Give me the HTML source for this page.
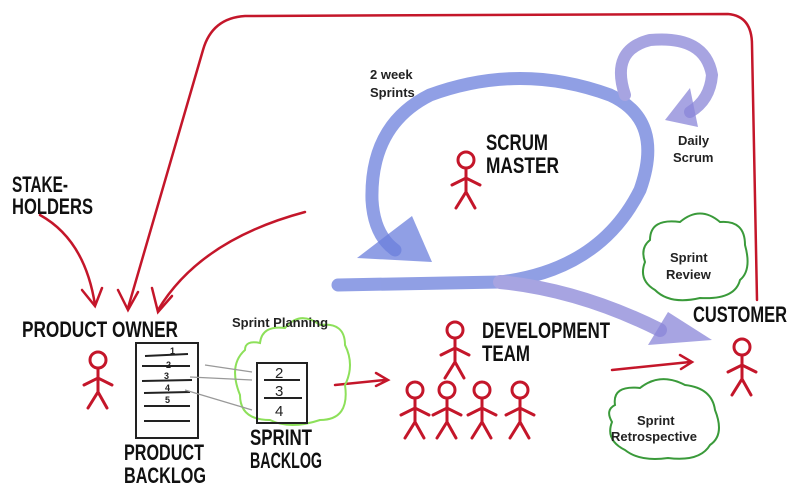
<!DOCTYPE html>
<html><head><meta charset="utf-8"><style>
html,body{margin:0;padding:0;background:#fff;width:800px;height:503px;overflow:hidden}
svg{display:block}
.t{font-family:"Liberation Sans",sans-serif;font-weight:bold;fill:#111}
.s{font-family:"Liberation Sans",sans-serif;font-weight:bold;fill:#222}
</style></head><body>
<svg width="800" height="503" viewBox="0 0 800 503">
<defs>
<g id="man" fill="none" stroke="#c4162a" stroke-width="3" stroke-linecap="round">
<circle cx="0" cy="0" r="8"/><path d="M0 8 L0 32 M-14 25 L0 18 L14 25 M-10 48 L0 32 L9 48"/>
</g>
</defs>
<g fill="none" stroke="#c4162a" stroke-width="2.5" stroke-linecap="round">
<path d="M128 308 L203 50 Q212 18 245 16 L728 14 Q752 16 752 45 L757 300"/>
<path d="M118 290 L128 310 L138 292"/>
<path d="M40 215 Q85 240 95 305"/>
<path d="M82 290 L95 306 L102 288"/>
<path d="M305 212 Q200 240 158 310"/>
<path d="M152 288 L158 312 L172 296"/>
<path d="M335 385 L385 380"/><path d="M376 373 L388 380 L376 386"/>
<path d="M612 370 L690 362"/><path d="M680 355 L692 362 L681 369"/>
</g>
<g fill="none" stroke-linecap="round" opacity="0.75">
<path d="M338 285 L500 282 Q600 270 640 190 Q665 120 610 95 Q520 62 430 95 Q370 125 372 200 Q374 235 395 250" stroke="#6b7fdc" stroke-width="13"/>
<path d="M500 282 Q580 290 660 330" stroke="#8a86d8" stroke-width="14"/>
<path d="M625 95 Q610 50 650 40 Q705 35 712 75 Q710 100 690 112" stroke="#8a86d8" stroke-width="12"/>
</g>
<g opacity="0.75">
<polygon points="357,258 432,262 412,216" fill="#6b7fdc"/>
<polygon points="648,345 712,340 668,312" fill="#8a86d8"/>
<polygon points="665,120 698,127 690,88" fill="#8a86d8"/>
</g>
<g fill="none" stroke-width="2">
<path d="M260 343 Q262 325 285 328 Q300 310 320 325 Q345 322 345 345 Q355 365 345 385 Q350 420 320 420 Q290 430 270 420 Q240 420 240 395 Q228 365 245 350 Q245 340 260 343Z" stroke="#8de05a"/>
<path d="M650 240 Q650 218 680 222 Q700 205 720 222 Q745 220 745 245 Q752 270 740 280 Q735 300 700 298 Q670 305 655 290 Q638 280 645 262 Q640 248 650 240Z" stroke="#3a9a3a"/>
<path d="M615 405 Q612 385 640 388 Q660 372 685 385 Q712 388 715 410 Q725 435 710 445 Q700 462 668 458 Q640 462 625 450 Q605 440 612 422 Q605 410 615 405Z" stroke="#3a9a3a"/>
</g>
<g fill="none" stroke="#222" stroke-width="2">
<rect x="136" y="343" width="62" height="95"/>
<path d="M145 356 L188 354 M142 366 L190 366 M142 381 L192 380 M144 393 L190 392 M144 406 L190 406 M144 421 L190 421"/>
<rect x="257" y="363" width="50" height="60"/>
<path d="M264 380 L300 380 M264 398 L302 398"/>
</g>
<g fill="none" stroke="#999" stroke-width="1.2">
<path d="M205 365 L252 372 M190 377 L252 380 M185 390 L252 410"/>
</g>
<text x="170" y="354" class="s" font-size="9">1</text>
<text x="166" y="368" class="s" font-size="9">2</text>
<text x="164" y="379" class="s" font-size="9">3</text>
<text x="165" y="391" class="s" font-size="9">4</text>
<text x="165" y="403" class="s" font-size="9">5</text>
<text x="275" y="378" class="s" font-size="15" style="font-weight:normal">2</text>
<text x="275" y="396" class="s" font-size="15" style="font-weight:normal">3</text>
<text x="275" y="416" class="s" font-size="15" style="font-weight:normal">4</text>
<use href="#man" x="98" y="360"/>
<use href="#man" x="466" y="160"/>
<use href="#man" x="455" y="330"/>
<use href="#man" x="415" y="390"/>
<use href="#man" x="447" y="390"/>
<use href="#man" x="482" y="390"/>
<use href="#man" x="520" y="390"/>
<use href="#man" x="742" y="347"/>
<g class="t" font-size="22">
<text x="12" y="192" textLength="56" lengthAdjust="spacingAndGlyphs">STAKE-</text>
<text x="12" y="214" textLength="81" lengthAdjust="spacingAndGlyphs">HOLDERS</text>
<text x="22" y="337" textLength="156" lengthAdjust="spacingAndGlyphs">PRODUCT OWNER</text>
<text x="124" y="460" textLength="80" lengthAdjust="spacingAndGlyphs">PRODUCT</text>
<text x="124" y="483" textLength="82" lengthAdjust="spacingAndGlyphs">BACKLOG</text>
<text x="250" y="445" textLength="62" lengthAdjust="spacingAndGlyphs">SPRINT</text>
<text x="250" y="468" textLength="72" lengthAdjust="spacingAndGlyphs">BACKLOG</text>
<text x="486" y="150" textLength="62" lengthAdjust="spacingAndGlyphs">SCRUM</text>
<text x="486" y="173" textLength="73" lengthAdjust="spacingAndGlyphs">MASTER</text>
<text x="482" y="338" textLength="128" lengthAdjust="spacingAndGlyphs">DEVELOPMENT</text>
<text x="482" y="361" textLength="48" lengthAdjust="spacingAndGlyphs">TEAM</text>
<text x="693" y="322" textLength="94" lengthAdjust="spacingAndGlyphs">CUSTOMER</text>
</g>
<g class="s" font-size="13">
<text x="370" y="79">2 week</text>
<text x="370" y="97">Sprints</text>
<text x="678" y="145">Daily</text>
<text x="673" y="162">Scrum</text>
<text x="232" y="327">Sprint Planning</text>
<text x="670" y="262">Sprint</text>
<text x="666" y="279">Review</text>
<text x="637" y="425">Sprint</text>
<text x="611" y="441">Retrospective</text>
</g>
</svg>
</body></html>
